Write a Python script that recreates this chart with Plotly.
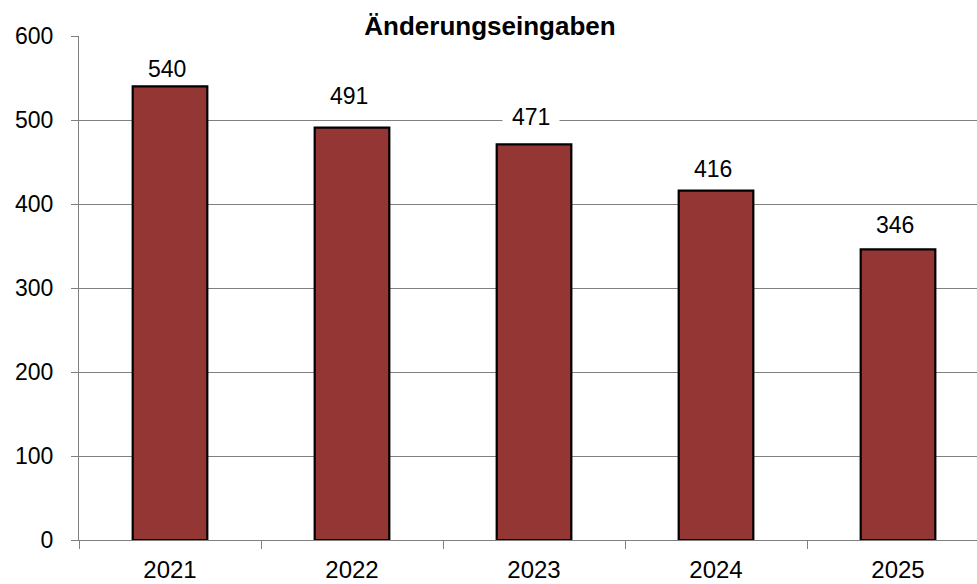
import plotly.graph_objects as go

years = ["2021", "2022", "2023", "2024", "2025"]
values = [540, 491, 471, 416, 346]
y_ticks = [0, 100, 200, 300, 400, 500, 600]
title_text = "Änderungseingaben"

# label placement (pixels above the bar top, label centre) and background
label_offsets = [17, 32, 27, 21.5, 24]
label_bg = ["rgba(0,0,0,0)", "rgba(0,0,0,0)", "#ffffff", "rgba(0,0,0,0)", "rgba(0,0,0,0)"]

FONT = "Liberation Sans, Arial, sans-serif"

fig = go.Figure()
fig.add_trace(go.Bar(
    x=years, y=values, width=0.41,
    marker=dict(color="#943634", line=dict(color="#000000", width=2.2)),
    hoverinfo="skip",
))

annos = []
for i, v in enumerate(values):
    annos.append(dict(
        x=i, y=v, xref="x", yref="y", text=str(v), showarrow=False,
        yanchor="middle", yshift=label_offsets[i], xshift=-3,
        bgcolor=label_bg[i], borderpad=9,
        font=dict(family=FONT, size=23, color="#000000"),
    ))

fig.update_layout(
    width=977, height=584,
    margin=dict(l=79, r=0, t=36, b=44, autoexpand=False),
    paper_bgcolor="white", plot_bgcolor="white",
    showlegend=False,
    annotations=annos,
    title=dict(text="<b>" + title_text + "</b>", x=490 / 977, xref="container", xanchor="center",
               y=1 - 35 / 584, yref="container", yanchor="bottom",
               font=dict(family=FONT, size=26, color="#000000")),
)
fig.update_xaxes(
    type="category", range=[-0.5, 4.434], automargin=False,
    tickson="boundaries", ticks="outside", ticklen=8, tickcolor="#808080", tickwidth=1,
    showline=True, linecolor="#808080", linewidth=1.3,
    showgrid=False, ticklabelstandoff=8,
    tickfont=dict(family=FONT, size=24, color="#000000"),
)
fig.update_yaxes(
    range=[0, 600], tickvals=y_ticks, ticks="outside", ticklen=7, automargin=False,
    tickcolor="#808080", tickwidth=1,
    showline=True, linecolor="#808080", linewidth=1.3,
    showgrid=True, gridcolor="#808080", gridwidth=1.4,
    zeroline=False, ticklabelstandoff=13,
    tickfont=dict(family=FONT, size=23, color="#000000"),
)

fig.write_html("out.html", config={"displayModeBar": False},
               post_script="document.body.style.margin='0';")
